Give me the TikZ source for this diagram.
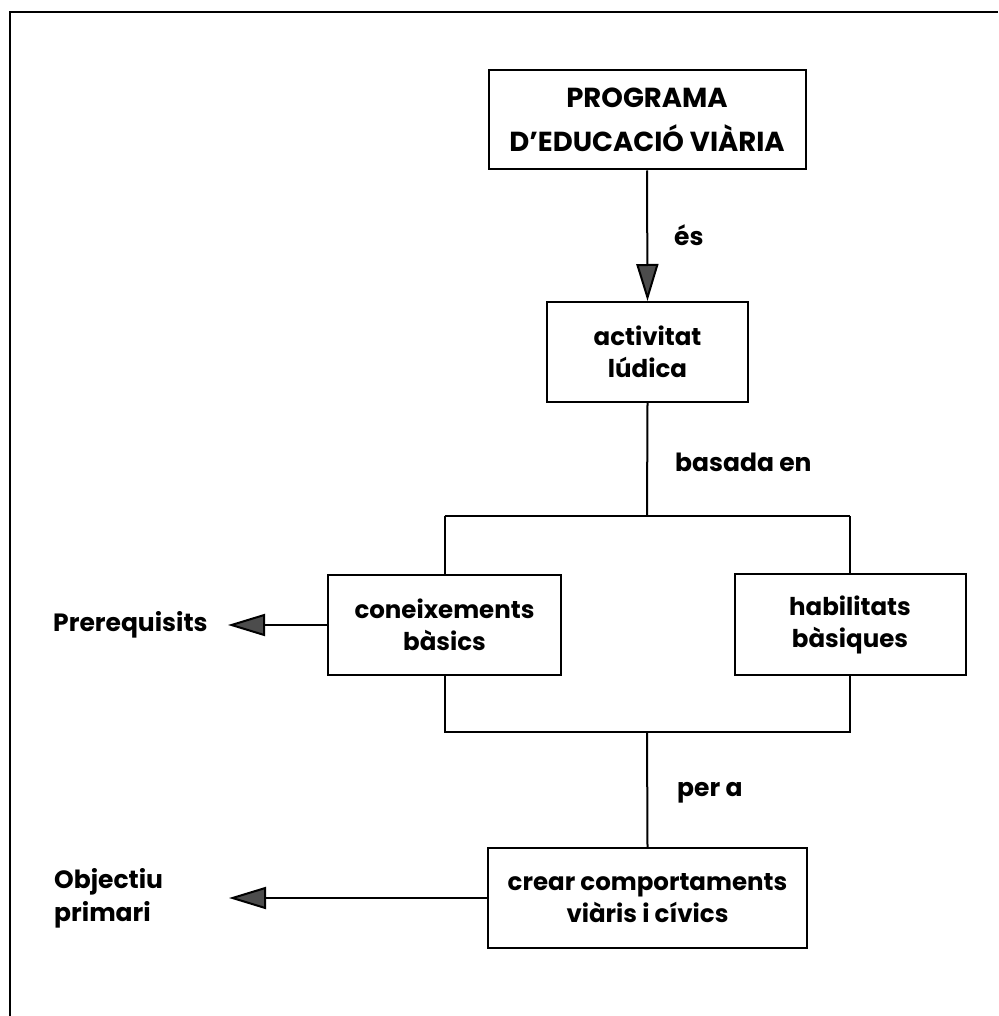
\documentclass[tikz,border=0pt]{standalone}
\usepackage{fontspec}
\setmainfont{Poppins}
\usetikzlibrary{arrows.meta}
\tikzset{
  box/.style={draw=black, line width=2pt, align=center, inner sep=0pt, font=\bfseries\fontsize{24.5}{32}\selectfont},
  lbl/.style={inner sep=0pt, anchor=west, align=left, font=\bfseries\fontsize{25}{33}\selectfont},
  conn/.style={line width=2pt},
  tip/.style={line width=2pt, -{Triangle[length=37pt,width=22pt,fill=black!70]}},
}
\begin{document}
\begin{tikzpicture}[x=1pt,y=-1pt]
\useasboundingbox (0,0) rectangle (998,1016);
\draw[line width=2.5pt] (10,1016) -- (10,12) -- (998,12);

\node[box, minimum width=317pt, minimum height=99pt, font=\bfseries\fontsize{27.5}{44}\selectfont] (prog) at (647,120) {PROGRAMA\\D’EDUCACIÓ VIÀRIA};
\node[box, minimum width=201pt, minimum height=100pt] (act) at (647.5,352) {activitat\\lúdica};
\node[box, minimum width=233pt, minimum height=100pt] (con) at (444.5,625) {coneixements\\bàsics};
\node[box, minimum width=231pt, minimum height=101pt] (hab) at (850,624.5) {habilitats\\bàsiques};
\node[box, minimum width=319pt, minimum height=100pt] (crear) at (647.5,898) {crear comportaments\\viàris i cívics};

\node[lbl] (es) at (674,235) {és};
\node[lbl] (basada) at (675,462) {basada en};
\node[lbl] (pera) at (677,793) {per a};
\node[lbl] (prereq) at (53,625) {Prerequisits};
\node[lbl] (obj) at (54,898.5) {Objectiu\\primari};

\coordinate (tb) at (647,516);
\coordinate (tbl) at (444.5,516);
\coordinate (tbr) at (850,516);
\coordinate (bb) at (647,732);
\coordinate (bbl) at (444.5,732);
\coordinate (bbr) at (850,732);
\coordinate (ptip) at (228,625);
\coordinate (otip) at (229,898);

\draw[tip] (prog.south) -- (act.north);
\draw[conn] (act.south) -- (tb);
\draw[conn] (tbl) -- (tbr);
\draw[conn] (tbl) -- (con.north);
\draw[conn] (tbr) -- (hab.north);
\draw[conn] (con.south) -- (bbl) -- (bbr) -- (hab.south);
\draw[conn] (bb) -- (crear.north);
\draw[tip] (con.west) -- (ptip);
\draw[tip] (crear.west) -- (otip);
\end{tikzpicture}
\end{document}
